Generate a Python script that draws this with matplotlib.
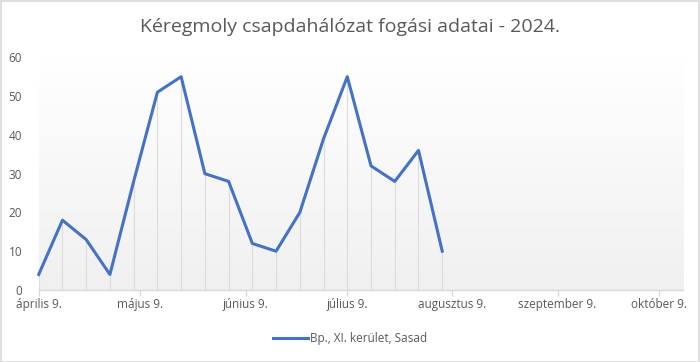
import matplotlib
matplotlib.use("Agg")
import matplotlib.pyplot as plt
import matplotlib.dates as mdates
import numpy as np
import datetime as dt

title = "Kéregmoly csapdahálózat fogási adatai - 2024."
series_name = "Bp., XI. kerület, Sasad"
dates = ["2024-04-09", "2024-04-16", "2024-04-23", "2024-04-30", "2024-05-07",
         "2024-05-14", "2024-05-21", "2024-05-28", "2024-06-04", "2024-06-11",
         "2024-06-18", "2024-06-25", "2024-07-02", "2024-07-09", "2024-07-16",
         "2024-07-23", "2024-07-30", "2024-08-06"]
values = [4, 18, 13, 4, 28, 51, 55, 30, 28, 12, 10, 20, 39, 55, 32, 28, 36, 10]
tick_dates = ["2024-04-09", "2024-05-09", "2024-06-09", "2024-07-09",
              "2024-08-09", "2024-09-09", "2024-10-09"]
tick_labels = ["április 9.", "május 9.", "június 9.", "július 9.",
               "augusztus 9.", "szeptember 9.", "október 9."]
x_min, x_max = "2024-04-09", "2024-10-16"

plt.rcParams['font.family'] = ['Open Sans', 'DejaVu Sans']
txt = '#595959'
grid_c = '#d9d9d9'

fig = plt.figure(figsize=(7, 3.62), dpi=100)
fig.patches.append(plt.Rectangle((0.001, 0.001), 0.997, 0.996, transform=fig.transFigure,
                                 fill=False, edgecolor='#d9d9d9', linewidth=1.2))
ax = fig.add_axes([0.0553, 0.1989, 0.9204, 0.6428])

xd = [mdates.date2num(dt.date.fromisoformat(d)) for d in dates]
xmin = mdates.date2num(dt.date.fromisoformat(x_min))
xmax = mdates.date2num(dt.date.fromisoformat(x_max))

# gradient background
grad = np.linspace(0, 1, 256).reshape(-1, 1)
top = np.array([1.0, 1.0, 1.0])
bot = np.array([0xf0, 0xf0, 0xf0]) / 255
img = top + (bot - top) * grad
img = img.reshape(256, 1, 3)
ax.imshow(img, extent=[0, 1, 0, 1], transform=ax.transAxes, aspect='auto',
          origin='upper', zorder=0)

ax.vlines(xd, 0, values, colors='#dcdcdc', linewidth=0.8, zorder=1)
ax.plot(xd, values, color='#4472C4', linewidth=2.2, label=series_name, zorder=3,
        solid_joinstyle='round', clip_on=False)

ax.set_xlim(xmin, xmax)
ax.set_ylim(0, 60)
ax.set_yticks(range(0, 61, 10))
ax.set_xticks([mdates.date2num(dt.date.fromisoformat(d)) for d in tick_dates])
ax.set_xticklabels(tick_labels)

for s in ['top', 'right', 'left']:
    ax.spines[s].set_visible(False)
ax.spines['bottom'].set_color(grid_c)
ax.spines['bottom'].set_linewidth(1.0)
ax.tick_params(axis='x', colors=grid_c, labelcolor=txt, labelsize=8.5, length=4, width=1, pad=2)
ax.tick_params(axis='y', length=0, labelcolor=txt, labelsize=8.5, pad=12)

fig.text(0.5, 0.925, title, ha='center', va='center', fontsize=14, color=txt)

leg = fig.legend(loc='center', bbox_to_anchor=(0.5, 0.064), frameon=False, fontsize=8.5,
                 handlelength=3.0, handletextpad=0.2, labelcolor=txt)

fig.savefig("out.png", dpi=100)
